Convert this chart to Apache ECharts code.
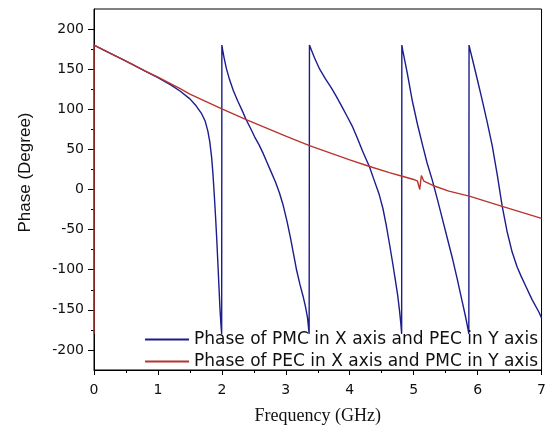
<!DOCTYPE html>
<html>
<head>
<meta charset="utf-8">
<script src="https://cdn.jsdelivr.net/npm/echarts@6/dist/echarts.min.js"></script>
<style>html,body{margin:0;padding:0;background:#fff}#c{width:549px;height:430px}</style>
</head>
<body>
<div id="c"></div>
<script>
// Blue: Phase of PMC in X axis and PEC in Y axis  [GHz, degree]
const bluePMC = [
  [0,180],[0.2,172],[0.4,164],[0.6,156],[0.8,147.5],[1.0,139.5],[1.2,130.5],[1.35,122.5],[1.5,113],[1.6,104],
  [1.68,95],[1.74,85],[1.78,73],[1.81,60],[1.84,40],[1.86,20],[1.88,-5],[1.90,-32],[1.92,-62],[1.94,-96],
  [1.955,-122],[1.97,-148],[1.985,-168],[1.997,-180],
  [2.0,-180],[2.0,180],[2.01,175],[2.03,166],[2.07,151],[2.12,137],[2.18,123],[2.25,110],[2.32,98],[2.38,87],
  [2.45,76],[2.51,66],[2.58,56],[2.64,46],[2.7,35],[2.77,22],[2.84,9],[2.9,-4],[2.96,-20],[3.02,-40],[3.07,-59],
  [3.12,-80],[3.17,-101],[3.22,-118],[3.27,-133],[3.31,-147],[3.34,-160],[3.365,-180],
  [3.37,-180],[3.37,180],[3.38,178],[3.40,174],[3.45,164],[3.53,150],[3.62,138],[3.71,127],[3.79,116],[3.88,103],
  [3.96,91],[4.045,78],[4.12,64],[4.2,48],[4.26,37],[4.31,28],[4.38,12],[4.46,-6],[4.52,-24],[4.57,-44],[4.62,-67],
  [4.67,-91],[4.71,-111],[4.75,-132],[4.78,-152],[4.80,-168],[4.812,-180],
  [4.815,-180],[4.815,180],[4.83,173],[4.85,165],[4.9,145],[4.98,110],[5.06,81],[5.14,55],[5.21,33],[5.29,12],
  [5.37,-12],[5.45,-37],[5.53,-62],[5.61,-87],[5.68,-111],[5.76,-140],[5.81,-158],[5.84,-170],[5.863,-180],
  [5.866,-180],[5.866,180],[5.88,175],[5.92,162],[5.99,139],[6.07,112],[6.15,84],[6.23,54],[6.31,17],[6.385,-21],
  [6.46,-52],[6.54,-78],[6.62,-97],[6.68,-108],[6.75,-120],[6.85,-137],[6.96,-153],[7.0,-160]
];
// Red: Phase of PEC in X axis and PMC in Y axis
const redPEC = [
  [0,-180],[0,180],[0.5,160],[0.82,147],[1.0,140],[1.34,126],[1.5,119],[2.0,100.5],[2.38,87],[3.0,66.5],[3.37,54.7],
  [4.0,37],[4.3,29],[4.62,21],[4.82,16.5],[5.0,12.5],[5.06,10.3],[5.095,0],[5.12,17.4],[5.16,10.3],
  [5.3,5],[5.55,-2],[5.87,-8.3],[6.385,-21],[7.0,-36]
];
const legendNames = ['Phase of PMC in X axis and PEC in Y axis','Phase of PEC in X axis and PMC in Y axis'];
const yMajor = [-200,-150,-100,-50,0,50,100,150,200];
const yMinor = [-175,-125,-75,-25,25,75,125,175];

const chart = echarts.init(document.getElementById('c'), null, {renderer:'canvas'});
chart.setOption({
  animation:false,
  backgroundColor:'#fff',
  grid:{left:94,right:6,top:9,bottom:58,show:true,borderColor:'#000',borderWidth:1},
  legend:{
    orient:'vertical', right:6, top:326, itemGap:5, itemWidth:44, itemHeight:2,
    icon:'rect',
    textStyle:{fontFamily:'DejaVu Sans, sans-serif',fontSize:17,color:'#111'},
    data:legendNames
  },
  xAxis:{
    type:'value', min:0, max:7, interval:1,
    name:'Frequency (GHz)', nameLocation:'middle', nameGap:37,
    nameTextStyle:{fontFamily:'Liberation Serif, Times New Roman, serif',fontSize:18,color:'#111'},
    axisLine:{onZero:false,lineStyle:{color:'#000',width:1}},
    axisTick:{inside:false,length:5,lineStyle:{color:'#000'}},
    minorTick:{show:true,splitNumber:2,length:3,lineStyle:{color:'#000'}},
    axisLabel:{fontFamily:'DejaVu Sans, sans-serif',fontSize:14,color:'#111',margin:13},
    splitLine:{show:false}
  },
  yAxis:[{
    type:'value', min:-225, max:225,
    name:'Phase (Degree)', nameLocation:'middle', nameGap:60,
    nameTextStyle:{fontFamily:'Liberation Sans, Arial, sans-serif',fontSize:17,color:'#111',padding:[0,0,0,34]},
    axisLine:{onZero:false,lineStyle:{color:'#000',width:1}},
    axisTick:{length:6,customValues:yMajor,lineStyle:{color:'#000'}},
    axisLabel:{customValues:yMajor,fontFamily:'DejaVu Sans, sans-serif',fontSize:14,color:'#111',margin:10},
    splitLine:{show:false}
  },{
    type:'value', min:-225, max:225, position:'left',
    axisLine:{show:false},
    axisTick:{length:3,customValues:yMinor,lineStyle:{color:'#000'}},
    axisLabel:{show:false},
    splitLine:{show:false}
  }],
  series:[
    {name:legendNames[0],type:'line',yAxisIndex:0,data:bluePMC,showSymbol:false,symbol:'none',
     lineStyle:{color:'#1c1c8c',width:1.4},itemStyle:{color:'#1c1c8c'},z:3},
    {name:legendNames[1],type:'line',yAxisIndex:0,data:redPEC,showSymbol:false,symbol:'none',
     lineStyle:{color:'#b8352e',width:1.4},itemStyle:{color:'#b8352e'},z:4}
  ]
});
</script>
</body>
</html>
